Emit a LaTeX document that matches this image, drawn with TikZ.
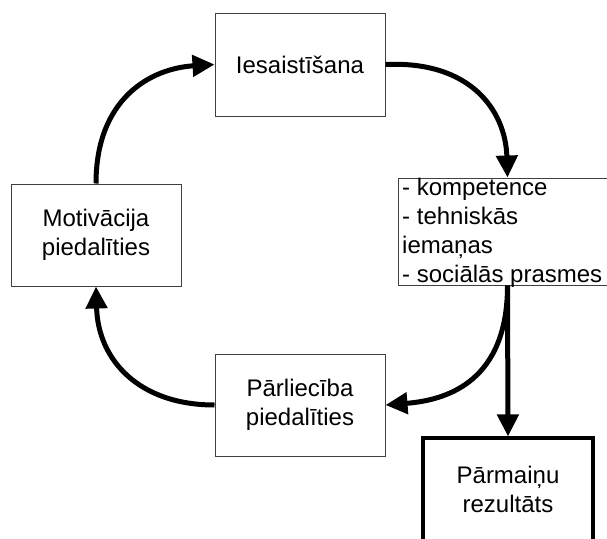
\documentclass[tikz,border=0pt]{standalone}
\usepackage{fontspec}
\setmainfont{Liberation Sans}
\usetikzlibrary{arrows.meta}
\begin{document}
\begin{tikzpicture}[x=1pt,y=-1pt,
  box/.style={draw=black!75, line width=1pt, fill=white, minimum width=170pt,
    minimum height=102pt, inner sep=0pt, align=center,
    font=\fontsize{24}{29}\selectfont},
  resultbox/.style={box, draw=black, line width=3.2pt},
  flow/.style={line width=5pt, -{Triangle[length=22pt,width=21pt]}}]
\useasboundingbox (0,0) rectangle (607,538);

% the five boxes of the cycle
\node[box, minimum height=103pt] (ies) at (300,64.5) {Iesaistīšana};
\node[box] (mot) at (96,235) {Motivācija\\piedalīties};
\node[box] (par) at (300,405) {Pārliecība\\piedalīties};
\node[box, minimum width=219pt, minimum height=107pt] (list) at (507.5,231.5) {};
\node[anchor=north west, inner sep=0pt, align=left,
  font=\fontsize{24}{29}\selectfont] (listtext) at (402,177.5)
  {- kompetence\\- tehniskās\\iemaņas\\- sociālās prasmes};
\node[resultbox, minimum height=103pt] (res) at (508,489.5) {Pārmaiņu\\rezultāts};

% curved connectors around the cycle
\draw[flow] (ies.east) .. controls +(85,-4) and +(-2,-67) .. (list.north);
\draw[flow] (list.south) .. controls +(0,95) and +(63,-5) .. (par.east);
\draw[flow] (par.west) .. controls +(-75,0) and +(2,74) .. (mot.south);
\draw[flow] (mot.north) .. controls +(0,-84) and +(-65,4) .. (ies.west);

% straight connector to the outcome
\draw[flow] (list.south) -- (res.north);
\end{tikzpicture}
\end{document}
